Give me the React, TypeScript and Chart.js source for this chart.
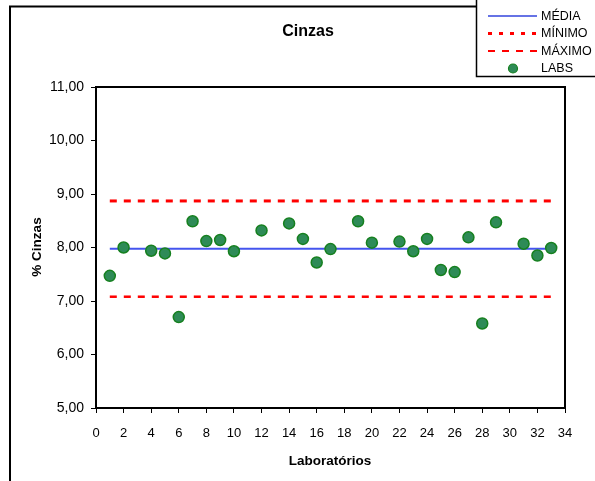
import { useEffect, useRef } from 'react';
import { Chart, registerables } from 'chart.js';

Chart.register(...registerables);

const TITLE = 'Cinzas';
const X_TITLE = 'Laboratórios';
const Y_TITLE = '% Cinzas';
const LAB_IDS = [1, 2, 4, 5, 6, 7, 8, 9, 10, 12, 14, 15, 16, 17, 19, 20, 22, 23, 24, 25, 26, 27, 28, 29, 31, 32, 33];
const LAB_VALUES = [7.47, 8.0, 7.94, 7.89, 6.7, 8.49, 8.12, 8.14, 7.93, 8.32, 8.45, 8.16, 7.72, 7.97, 8.49, 8.09, 8.11, 7.93, 8.16, 7.58, 7.54, 8.19, 6.58, 8.47, 8.07, 7.85, 7.99];
const LINE_X = [1, 33];
const MEDIA = 7.975;
const MINIMO = 7.08;
const MAXIMO = 8.87;
const X_MIN = 0;
const X_MAX = 34;
const X_STEP = 2;
const Y_MIN = 5;
const Y_MAX = 11;
const Y_STEP = 1;
const SERIES_LABELS = ['MÉDIA', 'MÍNIMO', 'MÁXIMO', 'LABS'];

const FONT = '"Liberation Sans", Arial, sans-serif';

export default function App() {
  const ref = useRef<HTMLCanvasElement | null>(null);

  useEffect(() => {
    if (!ref.current) return;
    const lineData = (v: number) => LINE_X.map((x) => ({ x, y: v }));

    const legendStyles = [
      { kind: 'line', color: '#3344dd', width: 1.5, dash: [] as number[] },
      { kind: 'line', color: '#ff0000', width: 3, dash: [4, 7] },
      { kind: 'line', color: '#ff0000', width: 2, dash: [7, 7] },
      { kind: 'point' },
    ];

    const decor = {
      id: 'decor',
      afterDraw(chart: any) {
        const ctx = chart.ctx as CanvasRenderingContext2D;
        const a = chart.chartArea;
        ctx.save();
        // outer frame (left & top)
        ctx.strokeStyle = '#000';
        ctx.lineWidth = 2;
        ctx.beginPath();
        ctx.moveTo(10, 481);
        ctx.lineTo(10, 6.5);
        ctx.lineTo(480, 6.5);
        ctx.stroke();
        // plot box
        ctx.lineWidth = 2;
        ctx.strokeRect(a.left, a.top, a.right - a.left, a.bottom - a.top);
        // title
        ctx.fillStyle = '#000';
        ctx.textAlign = 'center';
        ctx.textBaseline = 'middle';
        ctx.font = `bold 16px ${FONT}`;
        ctx.fillText(TITLE, 308, 32);
        // x title
        ctx.font = `bold 13.5px ${FONT}`;
        ctx.fillText(X_TITLE, 330, 461);
        // y title
        ctx.save();
        ctx.translate(37, 247);
        ctx.rotate(-Math.PI / 2);
        ctx.fillText(Y_TITLE, 0, 0);
        ctx.restore();
        // legend box
        ctx.fillStyle = '#fff';
        ctx.fillRect(476.5, -1, 130, 77.5);
        ctx.lineWidth = 1.5;
        ctx.strokeStyle = '#000';
        ctx.strokeRect(476.5, -1, 130, 77.5);
        const rows = [16, 33.5, 51, 68.5];
        const ds = chart.data.datasets;
        SERIES_LABELS.forEach((label, i) => {
          const y = rows[i];
          const st: any = legendStyles[i];
          if (st.kind === 'line') {
            ctx.save();
            ctx.strokeStyle = st.color;
            ctx.lineWidth = st.width;
            ctx.setLineDash(st.dash);
            ctx.beginPath();
            ctx.moveTo(488, y);
            ctx.lineTo(537, y);
            ctx.stroke();
            ctx.restore();
          } else {
            const p = ds[3];
            ctx.beginPath();
            ctx.arc(513, y, 4.5, 0, Math.PI * 2);
            ctx.fillStyle = p.backgroundColor;
            ctx.fill();
            ctx.lineWidth = 1.2;
            ctx.strokeStyle = p.borderColor;
            ctx.stroke();
          }
          ctx.fillStyle = '#000';
          ctx.textAlign = 'left';
          ctx.textBaseline = 'middle';
          ctx.font = `12.5px ${FONT}`;
          ctx.fillText(label, 541, y + 0.5);
        });
        ctx.restore();
      },
    };

    const chart = new Chart(ref.current, {
      type: 'scatter',
      data: {
        datasets: [
          {
            label: SERIES_LABELS[0],
            data: lineData(MEDIA),
            showLine: true,
            borderColor: '#4455ee',
            borderWidth: 2,
            pointRadius: 0,
            order: 1,
          },
          {
            label: SERIES_LABELS[1],
            data: lineData(MINIMO),
            showLine: true,
            borderColor: '#ff0000',
            borderWidth: 2.5,
            borderDash: [7, 7],
            pointRadius: 0,
            order: 1,
          },
          {
            label: SERIES_LABELS[2],
            data: lineData(MAXIMO),
            showLine: true,
            borderColor: '#ff0000',
            borderWidth: 3,
            borderDash: [7, 7],
            pointRadius: 0,
            order: 1,
          },
          {
            label: SERIES_LABELS[3],
            data: LAB_IDS.map((x, i) => ({ x, y: LAB_VALUES[i] })),
            backgroundColor: '#2e8b57',
            borderColor: '#16801f',
            borderWidth: 1.5,
            pointRadius: 5.5,
            order: 0,
          },
        ] as any,
      },
      options: {
        animation: false,
        responsive: true,
        maintainAspectRatio: false,
        layout: { padding: { left: 0, top: 87, right: 30, bottom: 0 } },
        plugins: {
          legend: { display: false },
          title: { display: false },
          tooltip: { enabled: false },
        },
        scales: {
          x: {
            type: 'linear',
            min: X_MIN,
            max: X_MAX,
            border: { display: false },
            grid: { drawOnChartArea: false, drawTicks: true, tickLength: 5, color: '#000' },
            ticks: {
              stepSize: X_STEP,
              color: '#000',
              font: { family: FONT, size: 13 },
              padding: 13,
              maxRotation: 0,
              autoSkip: false,
            },
            afterFit: (s: any) => {
              s.height = 73;
            },
          },
          y: {
            type: 'linear',
            min: Y_MIN,
            max: Y_MAX,
            border: { display: false },
            grid: { drawOnChartArea: false, drawTicks: true, tickLength: 5, color: '#000' },
            ticks: {
              stepSize: Y_STEP,
              color: '#000',
              font: { family: FONT, size: 14 },
              padding: 7,
              callback: (v: any) => Number(v).toFixed(2).replace('.', ','),
            },
            afterFit: (s: any) => {
              s.width = 96;
            },
          },
        },
      },
      plugins: [decor],
    });
    return () => chart.destroy();
  }, []);

  return (
    <div style={{ position: 'absolute', left: 0, top: 0, width: 595, height: 481, background: '#fff' }}>
      <canvas ref={ref} />
    </div>
  );
}
